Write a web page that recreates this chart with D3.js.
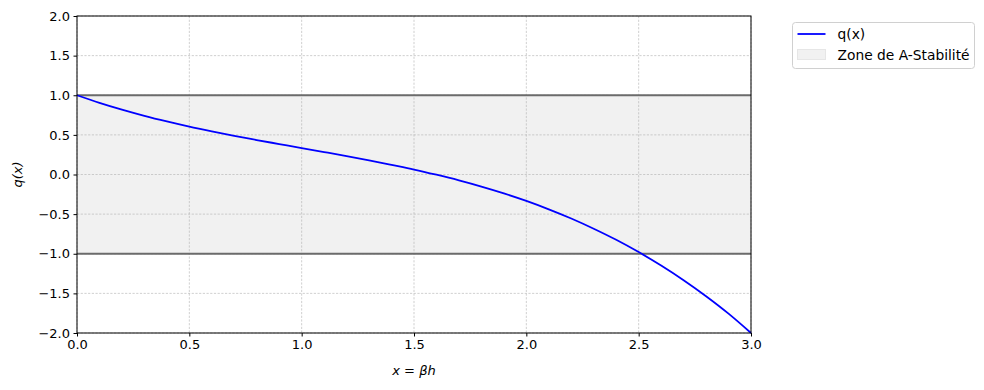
<!DOCTYPE html>
<html>
<head>
<meta charset="utf-8">
<script src="https://cdn.jsdelivr.net/npm/d3@7"></script>
<style>
  body { margin: 0; background: #fff; }
  svg { font-family: "DejaVu Sans", sans-serif; }
</style>
</head>
<body>
<svg id="chart" width="984" height="390"></svg>
<script>
// values
const xs = [0.0, 0.1, 0.2, 0.3, 0.4, 0.5, 0.6, 0.7, 0.8, 0.9, 1.0, 1.1, 1.2, 1.3, 1.4, 1.5,
            1.6, 1.7, 1.8, 1.9, 2.0, 2.1, 2.2, 2.3, 2.4, 2.5, 2.6, 2.7, 2.8, 2.9, 3.0];
const qs = [1.000, 0.905, 0.819, 0.741, 0.670, 0.604, 0.544, 0.487, 0.435, 0.384, 0.333,
            0.283, 0.232, 0.178, 0.121, 0.063, -0.003, -0.074, -0.152, -0.238, -0.333,
            -0.439, -0.555, -0.684, -0.824, -0.979, -1.149, -1.334, -1.536, -1.756, -2.000];
const xTicks = [0.0, 0.5, 1.0, 1.5, 2.0, 2.5, 3.0];
const yTicks = [-2.0, -1.5, -1.0, -0.5, 0.0, 0.5, 1.0, 1.5, 2.0];
const zone = [-1, 1];

const m = {left: 77, right: 233, top: 16, bottom: 57};
const W = 984 - m.left - m.right, H = 390 - m.top - m.bottom;
const svg = d3.select('#chart');
const g = svg.append('g').attr('transform', `translate(${m.left},${m.top})`);

const x = d3.scaleLinear().domain([0, 3]).range([0, W]);
const y = d3.scaleLinear().domain([-2, 2]).range([H, 0]);

// stability zone
g.append('rect')
  .attr('x', 0).attr('width', W)
  .attr('y', y(zone[1])).attr('height', y(zone[0]) - y(zone[1]))
  .attr('fill', '#f1f1f1');

// grid
g.append('g').selectAll('line').data(xTicks).enter().append('line')
  .attr('x1', d => x(d)).attr('x2', d => x(d)).attr('y1', 0).attr('y2', H)
  .attr('stroke', '#b0b0b0').attr('stroke-width', 0.6).attr('stroke-dasharray', '2.2,1.5');
g.append('g').selectAll('line').data(yTicks).enter().append('line')
  .attr('x1', 0).attr('x2', W).attr('y1', d => y(d)).attr('y2', d => y(d))
  .attr('stroke', '#b0b0b0').attr('stroke-width', 0.6).attr('stroke-dasharray', '2.2,1.5');

// zone bounds
g.append('g').selectAll('line').data(zone).enter().append('line')
  .attr('x1', 0).attr('x2', W).attr('y1', d => y(d)).attr('y2', d => y(d))
  .attr('stroke', '#6b6b6b').attr('stroke-width', 1.8);

// curve
const pts = xs.map((v, i) => [v, qs[i]]);
g.append('path').datum(pts)
  .attr('fill', 'none').attr('stroke', '#0000ff').attr('stroke-width', 1.8)
  .attr('d', d3.line().x(d => x(d[0])).y(d => y(d[1])).curve(d3.curveMonotoneX));

// axes
const xAxis = g.append('g').attr('transform', `translate(0,${H})`)
  .call(d3.axisBottom(x).tickValues(xTicks).tickFormat(d3.format('.1f')).tickSizeOuter(0).tickSize(3.5).tickPadding(3.5));
const yAxis = g.append('g')
  .call(d3.axisLeft(y).tickValues(yTicks).tickFormat(d => d3.format('.1f')(d).replace('-', '\u2212')).tickSizeOuter(0).tickSize(3.5).tickPadding(3.5));
[xAxis, yAxis].forEach(a => {
  a.selectAll('text').attr('font-size', 13).attr('fill', '#000').attr('font-family', '"DejaVu Sans", sans-serif');
  a.selectAll('line').attr('stroke', '#000');
  a.select('.domain').remove();
});

// frame
g.append('rect').attr('width', W).attr('height', H)
  .attr('fill', 'none').attr('stroke', '#000').attr('stroke-width', 1);

// axis labels
svg.append('text').attr('x', m.left + W / 2).attr('y', 375)
  .attr('text-anchor', 'middle').attr('font-size', 13).attr('font-style', 'italic')
  .text('x = βh');
svg.append('text').attr('transform', `translate(22,${m.top + H / 2}) rotate(-90)`)
  .attr('text-anchor', 'middle').attr('font-size', 13).attr('font-style', 'italic')
  .text('q(x)');

// legend
const lg = svg.append('g').attr('transform', 'translate(792.5,22.5)');
lg.append('rect').attr('width', 182).attr('height', 46).attr('rx', 3)
  .attr('fill', '#fff').attr('stroke', '#d0d0d0');
lg.append('line').attr('x1', 5).attr('x2', 33).attr('y1', 11.5).attr('y2', 11.5)
  .attr('stroke', '#0000ff').attr('stroke-width', 1.8);
lg.append('rect').attr('x', 5).attr('y', 27).attr('width', 28).attr('height', 10)
  .attr('fill', '#f1f1f1').attr('stroke', '#e6e6e6');
lg.append('text').attr('x', 45).attr('y', 16.5).attr('font-size', 13.8).text('q(x)');
lg.append('text').attr('x', 45).attr('y', 37.5).attr('font-size', 13.8).text('Zone de A-Stabilité');
</script>
</body>
</html>
